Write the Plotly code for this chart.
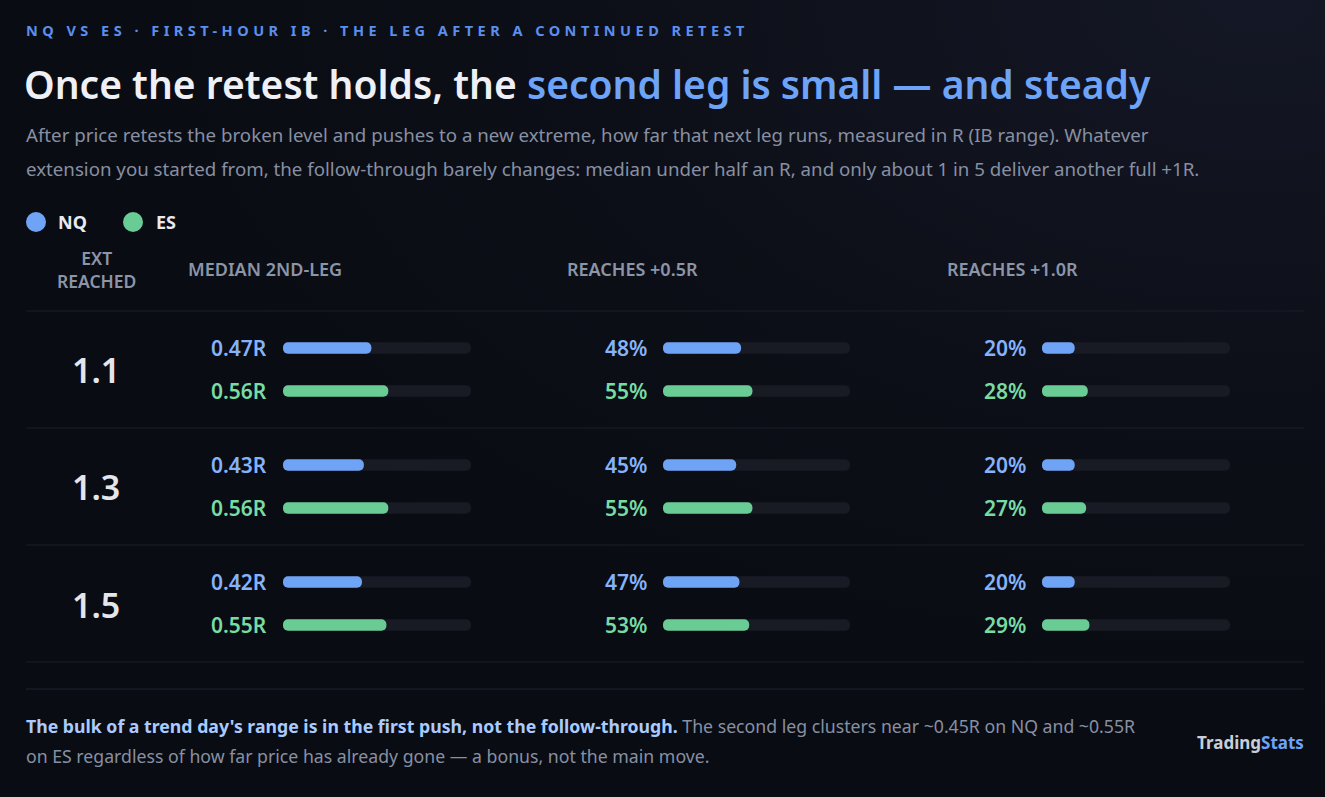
import base64
import plotly.graph_objects as go
from plotly.subplots import make_subplots

W, H = 1325, 797

# ---------------- data ----------------
ext_levels = ["1.1", "1.3", "1.5"]
series = ["NQ", "ES"]
col_titles = ["MEDIAN 2ND-LEG", "REACHES +0.5R", "REACHES +1.0R"]

nq_median = [0.47, 0.43, 0.42]
es_median = [0.56, 0.56, 0.55]
nq_reach05 = [48, 45, 47]
es_reach05 = [55, 55, 53]
nq_reach10 = [20, 20, 20]
es_reach10 = [28, 27, 29]

median_scale_max = 1.0
pct_scale_max = 115

# ---------------- style ----------------
BG = "#0a0c13"
NQ_BAR, ES_BAR = "#6fa3f5", "#69cc95"
NQ_TXT, ES_TXT = "#85b3fb", "#77dba3"
TRACK = "#181a24"
DIV = "#1b1e29"
HEAD = "#8c95a8"
FONT = "Noto Sans"


def px(x):
    return x / W


def py(y):
    return 1 - y / H


columns = [
    (nq_median, es_median, median_scale_max, "{:.2f}R"),
    (nq_reach05, es_reach05, pct_scale_max, "{:d}%"),
    (nq_reach10, es_reach10, pct_scale_max, "{:d}%"),
]
col_track_px = [(283, 471), (663, 850), (1042, 1230)]
row_nq_center = [348, 465, 582]
row_gap = 43

fig = make_subplots(rows=3, cols=3)


def add_round_bar(vals, colors, r, c, name):
    fig.add_trace(go.Bar(
        y=series, x=list(vals), base=[0 for _ in vals],
        orientation="h", width=0.27, marker=dict(color=colors, cornerradius="50%", line=dict(width=0)),
        hoverinfo="skip", showlegend=False, name=name), row=r, col=c)


annotations = []
for ri in range(3):
    for ci, (nq_vals, es_vals, smax, fmt) in enumerate(columns):
        r, c = ri + 1, ci + 1
        add_round_bar([smax, smax], [TRACK, TRACK], r, c, "track")
        add_round_bar([nq_vals[ri], es_vals[ri]], [NQ_BAR, ES_BAR], r, c, "value")
        x0, x1 = col_track_px[ci]
        top = row_nq_center[ri] - row_gap / 2
        bot = row_nq_center[ri] + row_gap + row_gap / 2
        fig.update_xaxes(domain=[px(x0), px(x1)], range=[0, smax], visible=False,
                         fixedrange=True, row=r, col=c)
        fig.update_yaxes(domain=[py(bot), py(top)], type="category",
                         categoryorder="array", categoryarray=series,
                         range=[1.5, -0.5], visible=False, fixedrange=True, row=r, col=c)
        idx = ri * 3 + ci + 1
        xr = "x domain" if idx == 1 else f"x{idx} domain"
        yr = "y" if idx == 1 else f"y{idx}"
        for s, v, colr in (("NQ", nq_vals[ri], NQ_TXT), ("ES", es_vals[ri], ES_TXT)):
            annotations.append(dict(
                xref=xr, yref=yr, x=-14 / (x1 - x0), y=s, xanchor="right", yanchor="middle",
                text=fmt.format(v), showarrow=False,
                font=dict(family=FONT, size=21, color=colr, weight=600)))
    # row label
    annotations.append(dict(
        xref="paper", yref="paper", x=px(96), y=py(row_nq_center[ri] + row_gap / 2 + 1),
        xanchor="center", yanchor="middle", text=ext_levels[ri], showarrow=False,
        font=dict(family=FONT, size=34, color="#e4e6ec", weight=600)))

# headers
annotations.append(dict(xref="paper", yref="paper", x=px(96), y=py(269), xanchor="center",
                        yanchor="middle", text="EXT<br>REACHED", showarrow=False, align="center",
                        font=dict(family=FONT, size=17.5, color=HEAD, weight=600)))
for ci, t in enumerate(col_titles):
    annotations.append(dict(xref="paper", yref="paper", x=px([186, 565, 945][ci]), y=py(269),
                            xanchor="left", yanchor="middle", text=t, showarrow=False,
                            font=dict(family=FONT, size=18, color=HEAD, weight=600)))

# kicker
annotations.append(dict(xref="paper", yref="paper", x=px(24), y=py(30), xanchor="left", yanchor="middle",
                        text="NQ VS ES · FIRST-HOUR IB · THE LEG AFTER A CONTINUED RETEST",
                        showarrow=False, font=dict(family=FONT, size=14.5, color="#5b8fee", weight=700)))
# title
annotations.append(dict(xref="paper", yref="paper", x=px(22), y=py(84), xanchor="left", yanchor="middle",
                        text="Once the retest holds, the <span style='color:#6ea4f7'>second leg is small — and steady</span>",
                        showarrow=False, font=dict(family=FONT, size=39, color="#eef0f5", weight=600)))
# subtitle
sub1 = "After price retests the broken level and pushes to a new extreme, how far that next leg runs, measured in R (IB range). Whatever"
sub2 = "extension you started from, the follow-through barely changes: median under half an R, and only about 1 in 5 deliver another full +1R."
for y, t in ((135, sub1), (168, sub2)):
    annotations.append(dict(xref="paper", yref="paper", x=px(24), y=py(y), xanchor="left", yanchor="middle",
                            text=t, showarrow=False, font=dict(family=FONT, size=18.7, color="#8790a3")))
# legend
for x, t in ((56, "NQ"), (154, "ES")):
    annotations.append(dict(xref="paper", yref="paper", x=px(x), y=py(222), xanchor="left", yanchor="middle",
                            text=t, showarrow=False, font=dict(family=FONT, size=18, color="#e8eaf0", weight=700)))
# footer
foot1 = ("<span style='color:#a9cbff'><b>The bulk of a trend day's range is in the first push, not the follow-through.</b></span>"
         " The second leg clusters near ~0.45R on NQ and ~0.55R")
foot2 = "on ES regardless of how far price has already gone — a bonus, not the main move."
for y, t in ((726, foot1), (756, foot2)):
    annotations.append(dict(xref="paper", yref="paper", x=px(24), y=py(y), xanchor="left", yanchor="middle",
                            text=t, showarrow=False, font=dict(family=FONT, size=17.7, color="#8790a3")))
annotations.append(dict(xref="paper", yref="paper", x=px(1306), y=py(742), xanchor="right", yanchor="middle",
                        text="Trading<span style='color:#6ea4f7'>Stats</span>", showarrow=False,
                        font=dict(family=FONT, size=17, color="#c9ced9", weight=700)))

shapes = []
for y in (311, 428, 545, 662):
    shapes.append(dict(type="line", xref="paper", yref="paper", x0=px(26), x1=px(1304), y0=py(y), y1=py(y),
                       line=dict(color=DIV, width=1)))
shapes.append(dict(type="line", xref="paper", yref="paper", x0=px(26), x1=px(1304), y0=py(689), y1=py(689),
                   line=dict(color="#1e2230", width=1)))
for cx, colr in ((36, NQ_BAR), (133, ES_BAR)):
    shapes.append(dict(type="circle", xref="paper", yref="paper", x0=px(cx - 10), x1=px(cx + 10),
                       y0=py(232), y1=py(212), fillcolor=colr, line=dict(width=0)))

# subtle background glow (top-right)
svg = (f"<svg xmlns='http://www.w3.org/2000/svg' width='{W}' height='{H}'>"
       "<defs><radialGradient id='g' cx='0.95' cy='0' r='0.9'>"
       "<stop offset='0' stop-color='#141725'/><stop offset='0.55' stop-color='#0d0f18'/>"
       f"<stop offset='1' stop-color='{BG}'/></radialGradient></defs>"
       "<rect width='100%' height='100%' fill='url(#g)'/></svg>")
bg_src = "data:image/svg+xml;base64," + base64.b64encode(svg.encode()).decode()

fig.update_layout(
    width=W, height=H, autosize=False,
    margin=dict(l=0, r=0, t=0, b=0),
    paper_bgcolor=BG, plot_bgcolor="rgba(0,0,0,0)",
    barmode="overlay", showlegend=False,
    annotations=annotations, shapes=shapes,
    images=[dict(source=bg_src, xref="paper", yref="paper", x=0, y=1, sizex=1, sizey=1,
                 xanchor="left", yanchor="top", sizing="stretch", layer="below")],
    font=dict(family=FONT),
)

post = """
var gd = document.getElementById('{plot_id}');
gd.querySelectorAll('.annotation-text').forEach(function(t){
  if (t.textContent.indexOf('NQ VS ES') === 0) {
    var b = t.getBBox();
    var n = t.textContent.length;
    var ls = (719 - b.width) / (n - 1);
    t.setAttribute('text-anchor', 'start');
    t.setAttribute('x', b.x);
    t.style.letterSpacing = ls + 'px';
  }
});
"""
fig.write_html("out.html", config={"displayModeBar": False}, post_script=post)
